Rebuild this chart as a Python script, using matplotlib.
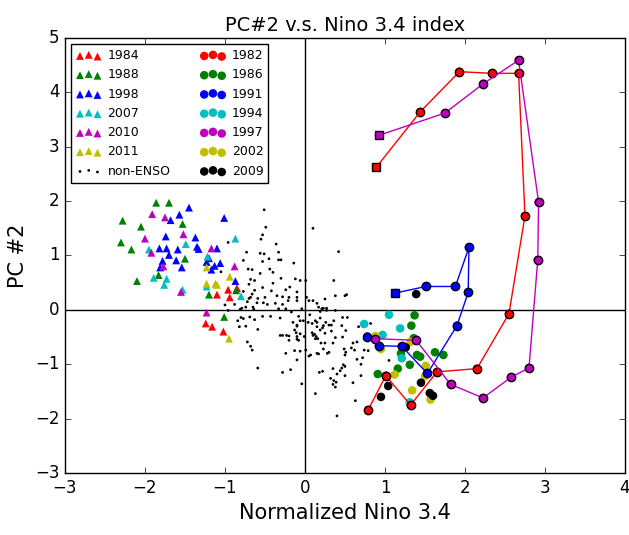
import matplotlib
matplotlib.use("Agg")
import matplotlib.pyplot as plt

plt.style.use("classic")
plt.rcParams['font.family'] = ['DejaVu Sans']

# ---- La Nina years (triangles) ----
x1984 = [-0.96, -0.85, -1.10, -0.94, -1.24, -1.16, -1.02]
y1984 = [0.37, 0.40, 0.28, 0.23, -0.25, -0.31, -0.40]

x1988 = [-1.86, -1.70, -2.28, -2.05, -1.53, -2.30, -2.17, -1.50, -1.83, -2.10, -1.20, -0.86, -1.01]
y1988 = [1.97, 1.97, 1.64, 1.53, 1.58, 1.24, 1.11, 0.94, 0.64, 0.53, 0.28, 0.36, -0.13]

x1998 = [-1.45, -1.57, -1.68, -1.01, -1.74, -1.37, -1.82, -1.73, -1.59, -1.35, -1.33, -1.70,
         -1.78, -1.61, -1.81, -1.54, -1.20, -1.23, -1.10, -1.06, -1.13, -1.17, -0.87]
y1998 = [1.88, 1.75, 1.65, 1.69, 1.35, 1.33, 1.13, 1.13, 1.11, 1.16, 1.12, 1.01,
         0.90, 0.91, 0.78, 0.78, 0.95, 0.88, 1.13, 0.86, 0.81, 0.74, 0.53]

x2007 = [-0.87, -1.49, -1.95, -1.22, -1.89, -1.73, -1.76, -1.53, -1.23, -0.80]
y2007 = [1.31, 1.21, 1.11, 0.98, 0.59, 0.57, 0.46, 0.37, 0.43, 0.25]

x2010 = [-1.91, -1.75, -1.52, -2.00, -1.92, -1.77, -1.17, -0.88, -1.55, -1.23]
y2010 = [1.76, 1.70, 1.39, 1.31, 1.05, 0.80, 1.13, 0.80, 0.33, -0.05]

x2011 = [-1.23, -0.94, -1.23, -1.12, -1.10, -0.95]
y2011 = [0.78, 0.61, 0.48, 0.48, 0.46, -0.53]

# ---- El Nino years (circles) ----
x1982 = [0.89, 1.44, 1.93, 2.34, 2.67, 2.75, 2.55, 2.15, 1.65, 1.32, 1.01, 0.79]
y1982 = [2.62, 3.64, 4.38, 4.35, 4.35, 1.73, -0.07, -1.08, -1.14, -1.75, -1.21, -1.84]

x1986 = [1.37, 1.33, 1.36, 1.20, 1.40, 1.44, 1.625, 1.73, 1.31, 1.16, 0.91]
y1986 = [-0.10, -0.29, -0.52, -0.80, -0.83, -0.86, -0.78, -0.83, -1.01, -1.08, -1.18]

x1991 = [1.13, 1.51, 1.88, 2.05, 2.04, 1.90, 1.53, 1.21, 0.925, 0.78]
y1991 = [0.31, 0.43, 0.43, 1.15, 0.32, -0.29, -1.17, -0.67, -0.66, -0.49]

x1994 = [1.05, 0.74, 1.19, 0.97, 1.21, 1.31]
y1994 = [-0.09, -0.26, -0.34, -0.46, -0.89, -1.70]

x1997 = [0.925, 1.75, 2.23, 2.67, 2.92, 2.91, 2.80, 2.575, 2.225, 1.82, 1.39, 0.875]
y1997 = [3.21, 3.62, 4.16, 4.59, 1.98, 0.92, -1.07, -1.24, -1.62, -1.37, -0.56, -0.53]

x2002 = [0.88, 0.95, 1.32, 1.12, 1.51, 1.50, 1.34, 1.57]
y2002 = [-0.48, -0.72, -0.59, -1.19, -1.03, -1.22, -1.48, -1.65]

x2009 = [1.39, 1.26, 1.45, 1.04, 0.95, 1.56, 1.60]
y2009 = [0.29, -0.69, -1.34, -1.40, -1.60, -1.53, -1.58]

# ---- non-ENSO ----
xnon = [-0.51, -0.49, 0.10, -0.53, -0.55, -0.96, -0.36, 0.42, -0.73, -0.56, -0.51, -0.33,
        -0.77, -0.53, -0.45, -0.33, -0.30, -0.14, -0.71, -0.66, -1.05, -0.44, -0.40, -0.56,
        0.36, -0.30, -0.68, -0.12, -0.63, -0.06, 0.01, -0.40, -0.19, -0.70, -0.53, -0.24,
        -0.63, -0.77, -0.42, -0.10, -0.66, -0.35, -0.68, 0.50, 0.52, 0.38, -0.70, -0.59,
        -0.50, -0.28, -0.20, -0.10, 0.02, -0.21, -0.10, 0.05, 0.10, 0.25, -1.00, -0.88,
        -0.72, -0.60, -0.52, -0.47, -0.37, -0.28, 0.15, -0.74, -0.65, -0.79, -0.64, -0.33,
        -0.24, -0.04, 0.17, 0.21, 0.23, 0.27, -0.96, -0.81, 0.27, 0.38, -0.17, -0.53,
        -0.43, 0.06, 0.19, -0.80, -0.77, -0.69, -0.63, -0.84, -0.31, -0.08, 0.19, -0.06,
        -0.02, 0.13, -0.82, -0.74, -0.15, -0.10, 0.04, 0.09, 0.15, 0.26, 0.30, 0.15,
        0.23, -0.59, -0.10, 0.22, 0.19, -0.13, -0.31, -0.28, -0.23, -0.20, -0.11, -0.06,
        0.09, 0.10, 0.12, 0.14, -0.01, 0.25, -0.10, -0.10, -0.20, -0.08, 0.13, 0.16,
        0.20, 0.25, -0.72, -0.68, -0.66, -0.24, -0.13, -0.06, 0.01, 0.05, 0.07, 0.15,
        0.17, 0.23, 0.28, 0.30, -0.10, -0.59, -0.18, -0.28, 0.18, 0.22, -0.04, 0.13,
        0.36, 0.47, 0.53, 0.33, 0.46, 0.33, 0.51, 0.67, 0.73, 0.82, 0.38, 0.47,
        0.60, 0.65, 0.35, 0.49, 0.58, 0.62, 0.51, 0.50, 0.74, 0.79, 0.72, 0.65,
        0.70, 0.48, 0.50, 0.46, 0.35, 0.44, 0.40, 0.50, 0.32, 0.36, 0.39, 0.35,
        0.38, 0.60, 0.70, 0.63, 0.40, 1.05]
ynon = [1.84, 1.52, 1.50, 1.38, 1.30, 1.24, 1.21, 1.07, 1.06, 1.04, 1.03, 1.06,
        0.91, 0.89, 0.94, 0.92, 0.92, 0.86, 0.75, 0.74, 0.70, 0.75, 0.69, 0.67,
        0.54, 0.58, 0.56, 0.57, 0.54, 0.54, 0.54, 0.49, 0.42, 0.47, 0.41, 0.37,
        0.36, 0.34, 0.35, 0.33, 0.29, 0.26, 0.23, 0.26, 0.28, 0.26, 0.21, 0.21,
        0.23, 0.24, 0.23, 0.23, 0.23, 0.17, 0.17, 0.17, 0.17, 0.20, 0.09, 0.10,
        0.15, 0.13, 0.13, 0.10, 0.12, 0.10, 0.12, 0.05, 0.05, 0.03, 0.01, 0.02,
        0.02, 0.02, 0.05, 0.02, 0.03, 0.03, -0.01, 0.01, -0.01, -0.01, -0.04, -0.12,
        -0.12, -0.09, -0.03, -0.14, -0.16, -0.13, -0.18, -0.20, -0.15, -0.12, -0.15, -0.20,
        -0.20, -0.20, -0.31, -0.30, -0.23, -0.28, -0.23, -0.25, -0.23, -0.23, -0.28, -0.31,
        -0.29, -0.36, -0.30, -0.33, -0.37, -0.37, -0.47, -0.47, -0.47, -0.48, -0.42, -0.44,
        -0.42, -0.47, -0.45, -0.49, -0.49, -0.43, -0.49, -0.54, -0.56, -0.56, -0.53, -0.53,
        -0.61, -0.61, -0.59, -0.67, -0.74, -0.80, -0.75, -0.76, -0.74, -0.85, -0.83, -0.80,
        -0.81, -0.72, -0.80, -0.78, -0.92, -1.07, -1.10, -1.15, -1.15, -1.13, -1.36, -1.54,
        -0.20, -0.14, -0.14, -0.28, -0.29, -0.39, -0.38, -0.31, -0.31, -0.25, -0.51, -0.50,
        -0.61, -0.59, -0.61, -0.72, -0.70, -0.74, -0.78, -0.83, -0.74, -0.75, -0.88, -0.91,
        -1.00, -1.01, -1.04, -1.07, -1.08, -1.12, -1.18, -1.21, -1.26, -1.30, -1.33, -1.37,
        -1.42, -1.34, -1.21, -1.67, -1.95, -0.93]

nina = [("1984", x1984, y1984, "r"), ("1988", x1988, y1988, "g"), ("1998", x1998, y1998, "b"),
        ("2007", x2007, y2007, "c"), ("2010", x2010, y2010, "m"), ("2011", x2011, y2011, "y")]
nino = [("1982", x1982, y1982, "r"), ("1986", x1986, y1986, "g"), ("1991", x1991, y1991, "b"),
        ("1994", x1994, y1994, "c"), ("1997", x1997, y1997, "m"), ("2002", x2002, y2002, "y"),
        ("2009", x2009, y2009, "k")]
connected = [(x1982, y1982, "r"), (x1991, y1991, "b"), (x1997, y1997, "m")]

fig = plt.figure(figsize=(6.29, 5.35), dpi=100, facecolor="white")
ax = fig.add_axes([0.1033, 0.1159, 0.8903, 0.8131])

handles = []
for lab, xs, ys, c in nina:
    h = ax.scatter(xs, ys, s=32, marker="^", c=c, edgecolors="none", label=lab, zorder=3)
    handles.append(h)
h = ax.scatter(xnon, ynon, s=4, marker="o", c="k", edgecolors="none", label="non-ENSO", zorder=2)
handles.append(h)
for lab, xs, ys, c in nino:
    h = ax.scatter(xs, ys, s=38, marker="o", c=c, edgecolors="none", label=lab, zorder=3)
    handles.append(h)

for xs, ys, c in connected:
    ax.plot(xs[1:], ys[1:], "-o", color=c, mfc=c, mec="k", ms=6, mew=1, lw=1, zorder=4)
    ax.plot(xs[:2], ys[:2], "-", color=c, lw=1, zorder=4)
    ax.plot(xs[0], ys[0], "s", color=c, mfc=c, mec="k", ms=6, mew=1, zorder=5)

ax.axhline(0, color="k", lw=1, zorder=1)
ax.axvline(0, color="k", lw=1, zorder=1)

ax.set_xlim(-3, 4)
ax.set_ylim(-3, 5)
ax.set_xticks(range(-3, 5))
ax.set_yticks(range(-3, 6))
ax.tick_params(labelsize=12)
ax.set_title("PC#2 v.s. Nino 3.4 index", fontsize=14)
ax.set_xlabel("Normalized Nino 3.4", fontsize=15)
ax.set_ylabel("PC #2", fontsize=15)

ax.legend(handles=handles, loc="upper left", ncol=2, fontsize=9, scatterpoints=3,
          scatteryoffsets=[0.375, 0.5, 0.3125], frameon=True, borderaxespad=0.5,
          columnspacing=2.4, handletextpad=0.5)

fig.savefig("out.png", dpi=100, facecolor="white")
